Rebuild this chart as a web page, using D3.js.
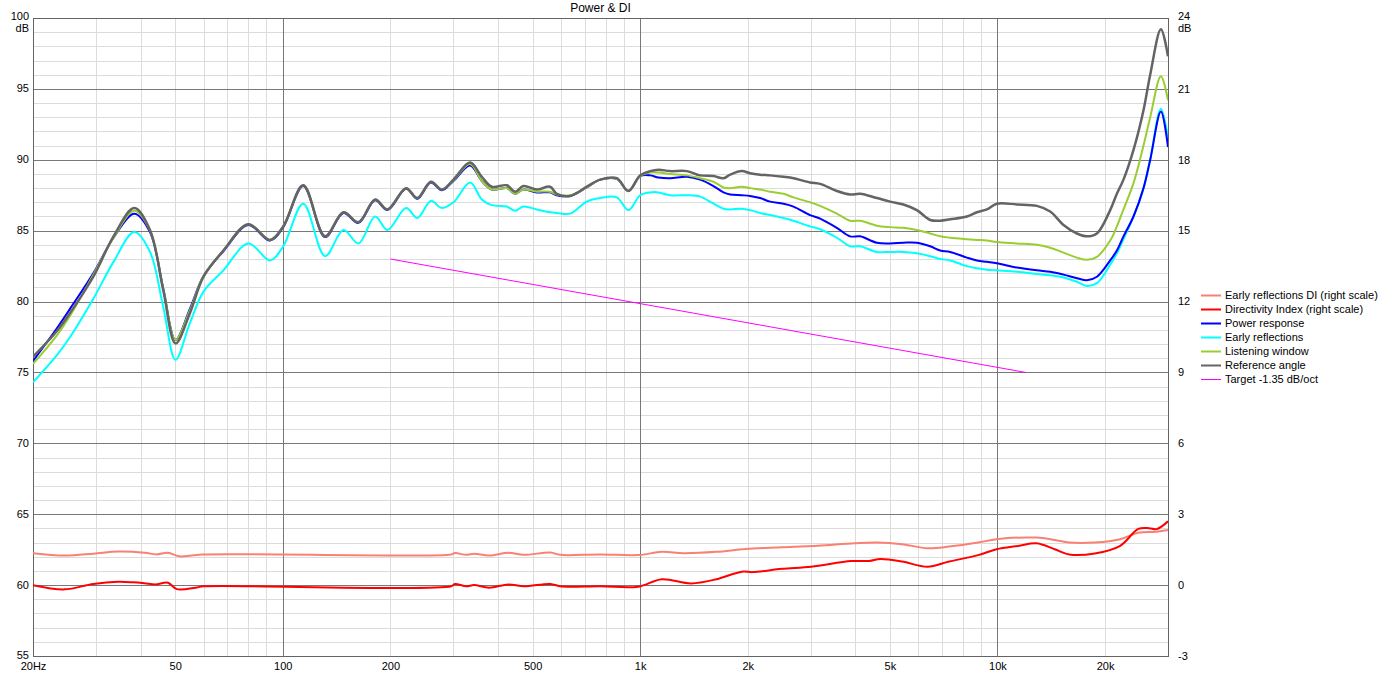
<!DOCTYPE html>
<html><head><meta charset="utf-8">
<script src="https://cdn.jsdelivr.net/npm/d3@7"></script>
<style>
body{margin:0;background:#fff;}
svg text{font-family:"Liberation Sans",Arial,sans-serif;font-size:11px;fill:#000;}
</style></head>
<body><svg id="c" width="1388" height="675"></svg>
<script>
// ---------- DATA ----------
const freqs = [20,23.3,25.4,29.5,33.6,38.4,42.5,46.3,50.1,55,60,68.2,80.1,92.1,100.3,114.1,131.3,147.8,162.8,181.3,196.2,221.3,238,259.6,278.6,300.3,334.3,360.5,384.5,423.6,446.8,471.3,513.8,559.8,584.4,637,709,773,860,927,1000,1067,1125,1213,1351,1472,1604,1711,1786,1925,2031,2166,2311,2518,2686,2990,3190,3552,3869,4127,4596,5008,5455,5947,6481,6913,7374,8210,8757,9338,9956,11325,12886,14042,15300,16680,17790,18980,20670,21580,22520,24020,25620,26750,28660,30000];

const referenceAngle = [76.1,77.9,79.2,81.75,84.6,86.6,85.05,80.8,77.05,79.2,81.75,83.6,85.45,84.35,85.3,88.2,84.6,86.3,85.6,87.2,86.5,88.0,87.3,88.45,87.9,88.6,89.8,88.8,88.1,88.2,87.75,88.15,87.9,88.1,87.6,87.45,88.1,88.6,88.7,87.8,88.9,89.2,89.3,89.2,89.2,88.9,88.85,88.7,88.95,89.2,89.05,88.95,88.9,88.8,88.7,88.4,88.3,87.8,87.55,87.6,87.3,87.05,86.85,86.45,85.75,85.7,85.8,86.0,86.3,86.5,86.9,86.85,86.75,86.35,85.4,84.8,84.6,84.8,86.45,87.6,88.6,90.7,93.5,96.0,99.2,97.3];

const listeningWindow = [75.6,77.6,79.0,81.9,84.5,86.4,85.0,80.9,77.3,79.4,81.8,83.6,85.45,84.35,85.3,88.2,84.6,86.3,85.6,87.2,86.5,88.0,87.3,88.45,87.9,88.55,89.7,88.5,87.9,88.0,87.6,87.9,87.75,87.75,87.55,87.5,88.05,88.6,88.65,87.8,88.85,89.1,89.1,89.0,88.9,88.7,88.45,88.05,88.0,88.1,88.0,87.9,87.75,87.6,87.35,87.0,86.75,86.2,85.7,85.7,85.35,85.25,85.2,85.05,84.8,84.6,84.5,84.4,84.35,84.3,84.2,84.1,84.0,83.8,83.45,83.1,82.95,83.15,84.3,85.3,86.5,88.35,91.0,93.0,95.9,94.2];

const powerResponse = [75.8,78.1,79.5,82.0,84.5,86.2,84.9,80.9,77.3,79.5,81.8,83.55,85.4,84.3,85.25,88.15,84.55,86.25,85.55,87.15,86.45,87.95,87.25,88.4,87.85,88.5,89.6,88.5,87.9,88.0,87.6,87.9,87.7,87.7,87.5,87.45,88.05,88.6,88.65,87.8,88.85,88.9,88.75,88.7,88.8,88.6,88.15,87.7,87.55,87.5,87.45,87.3,87.05,86.9,86.7,86.1,85.85,85.2,84.6,84.6,84.15,84.1,84.15,84.15,83.9,83.6,83.5,83.1,82.9,82.8,82.7,82.4,82.2,82.1,81.9,81.65,81.5,81.75,82.9,83.6,84.6,86.0,88.0,90.0,93.4,90.9];

const earlyReflections = [74.3,76.2,77.5,80.2,82.8,84.9,83.5,79.6,75.9,78.5,80.7,82.2,84.1,82.9,83.9,86.9,83.2,85.05,84.1,86.0,85.05,86.6,85.9,87.1,86.6,87.0,88.4,87.2,86.8,86.7,86.4,86.7,86.5,86.3,86.25,86.2,87.05,87.3,87.35,86.45,87.5,87.7,87.7,87.5,87.5,87.4,86.9,86.55,86.5,86.55,86.45,86.25,86.1,85.9,85.7,85.3,85.1,84.5,83.9,83.9,83.5,83.5,83.5,83.4,83.2,83.0,82.9,82.5,82.35,82.25,82.2,82.1,81.95,81.85,81.7,81.4,81.1,81.3,82.6,83.4,84.4,86.0,88.0,90.0,93.6,91.5];

const erDiFreqs = [20,24.5,29.5,34.6,41.1,44.3,47.7,51.3,59.5,296,303,326,343,378,428,472,561,597,774,987,1150,1324,1636,1973,2493,3148,3983,4587,5403,6368,7325,8830,9937,12860,14455,15870,18710,22040,24770,27870,30000];
const earlyReflectionsDI = [1.35,1.25,1.33,1.42,1.37,1.30,1.37,1.22,1.30,1.30,1.36,1.28,1.33,1.25,1.37,1.28,1.38,1.28,1.30,1.27,1.41,1.35,1.41,1.53,1.60,1.67,1.77,1.80,1.73,1.56,1.63,1.80,1.94,2.01,1.91,1.80,1.80,1.94,2.22,2.26,2.33];

const diFreqs = [20,24.5,29.5,34.6,38,41,44,47.7,50.5,57,60,296,303,326,343,378,428,472,561,597,774,987,1150,1389,1636,1925,2067,2493,3010,3894,4375,4695,5403,6368,7325,8830,9937,11423,12860,14455,15870,18710,22040,24770,26580,27870,30000];
const directivityIndex = [0.0,-0.18,0.05,0.14,0.12,0.08,0.03,0.10,-0.17,-0.11,-0.05,-0.05,0.05,-0.05,0.0,-0.11,0.03,-0.05,0.05,-0.05,-0.05,-0.07,0.25,0.07,0.25,0.57,0.55,0.69,0.78,1.02,1.02,1.10,1.0,0.78,1.0,1.27,1.52,1.66,1.77,1.52,1.30,1.34,1.66,2.38,2.41,2.37,2.70];

const targetFreqs = [200, 12000];
const targetValues = [83.0, 75.0];

const xTickValues = [20,50,100,200,500,1000,2000,5000,10000,20000];
const xTickLabels = ["20Hz","50","100","200","500","1k","2k","5k","10k","20k"];
const yLeftTicks = [55,60,65,70,75,80,85,90,95,100];
const yRightTicks = [-3,0,3,6,9,12,15,18,21,24];

const legendLabels = ["Early reflections DI (right scale)","Directivity Index (right scale)","Power response","Early reflections","Listening window","Reference angle","Target -1.35 dB/oct"];
const legendColors = ["#fa8072","#ff0000","#0000ff","#00ffff","#9acd32","#646464","#ff00ff"];

// ---------- CHART ----------
const L=33, R=1168, T=18, B=656;
const svg = d3.select("#c");
const x = d3.scaleLog().domain([20,30000]).range([L,R]);
const yL = d3.scaleLinear().domain([55,100]).range([B,T]);
const yR = d3.scaleLinear().domain([-3,24]).range([B,T]);

// grid
const minorX = [];
[10,100,1000,10000].forEach(d=>{for(let k=1;k<10;k++){const v=d*k; if(v>20&&v<30000&&![100,1000,10000].includes(v)) minorX.push(v);}});
const majorX = [100,1000,10000];
const minorY = d3.range(56,100).filter(v=>v%5!==0);
const majorY = d3.range(60,100,5);

const g = svg.append("g");
g.selectAll(".mx").data(minorX).join("line").attr("x1",d=>Math.round(x(d))+0.5).attr("x2",d=>Math.round(x(d))+0.5).attr("y1",T).attr("y2",B).attr("stroke","#dcdcdc");
g.selectAll(".my").data(minorY).join("line").attr("y1",d=>Math.round(yL(d))+0.5).attr("y2",d=>Math.round(yL(d))+0.5).attr("x1",L).attr("x2",R).attr("stroke","#dcdcdc");
g.selectAll(".Mx").data(majorX).join("line").attr("x1",d=>Math.round(x(d))+0.5).attr("x2",d=>Math.round(x(d))+0.5).attr("y1",T).attr("y2",B).attr("stroke","#787878");
g.selectAll(".My").data(majorY).join("line").attr("y1",d=>Math.round(yL(d))+0.5).attr("y2",d=>Math.round(yL(d))+0.5).attr("x1",L).attr("x2",R).attr("stroke","#787878");
svg.append("rect").attr("x",L+0.5).attr("y",T+0.5).attr("width",R-L).attr("height",B-T).attr("fill","none").attr("stroke","#646464");

// axes (labels)
const ax = svg.append("g").attr("transform",`translate(0,${B})`).call(d3.axisBottom(x).tickValues(xTickValues).tickFormat((d,i)=>xTickLabels[i]).tickSize(0).tickPadding(6));
ax.select(".domain").remove();
ax.selectAll("text").attr("font-size",null).attr("font-family",null).attr("dy","0.71em");
const ayl = svg.append("g").attr("transform",`translate(${L},0)`).call(d3.axisLeft(yL).tickValues(yLeftTicks).tickFormat(d=>d).tickSize(0).tickPadding(4));
ayl.select(".domain").remove();
ayl.selectAll("text").attr("font-size",null).attr("font-family",null).attr("dy",d=>d===100?"0.12em":"0.27em");
const ayr = svg.append("g").attr("transform",`translate(${R},0)`).call(d3.axisRight(yR).tickValues(yRightTicks).tickFormat(d=>d).tickSize(0).tickPadding(10));
ayr.select(".domain").remove();
ayr.selectAll("text").attr("font-size",null).attr("font-family",null).attr("dy",d=>d===24?"0.12em":"0.3em");
svg.append("text").attr("x",L-4).attr("y",yL(100)+14).attr("text-anchor","end").text("dB");
svg.append("text").attr("x",R+10).attr("y",yR(24)+14).attr("text-anchor","start").text("dB");
svg.append("text").attr("x",(L+R)/2).attr("y",12).attr("text-anchor","middle").style("font-size","12px").text("Power & DI");

// curves
svg.append("clipPath").attr("id","clip").append("rect").attr("x",L).attr("y",T).attr("width",R-L).attr("height",B-T);
const pg = svg.append("g").attr("clip-path","url(#clip)");
function draw(fs, vs, ys, color, w){
  const line = d3.line().x((d,i)=>x(fs[i])).y(d=>ys(d)).curve(d3.curveCatmullRom.alpha(0.5));
  pg.append("path").datum(vs).attr("d",line).attr("fill","none").attr("stroke",color).attr("stroke-width",w).attr("stroke-linejoin","round");
}
draw(erDiFreqs, earlyReflectionsDI, yR, legendColors[0], 2);
draw(diFreqs, directivityIndex, yR, legendColors[1], 2);
draw(freqs, earlyReflections, yL, legendColors[3], 2);
draw(freqs, powerResponse, yL, legendColors[2], 2);
draw(freqs, listeningWindow, yL, legendColors[4], 2);
draw(freqs, referenceAngle, yL, legendColors[5], 2.5);
draw(targetFreqs, targetValues, yL, legendColors[6], 1);

// legend
const lg = svg.append("g");
legendLabels.forEach((t,i)=>{
  const yy = 295 + i*14;
  lg.append("line").attr("x1",1201).attr("x2",1221).attr("y1",yy+0.5).attr("y2",yy+0.5).attr("stroke",legendColors[i]).attr("stroke-width", i===6?1:2);
  lg.append("text").attr("x",1225).attr("y",yy+4).text(t);
});
</script></body></html>
